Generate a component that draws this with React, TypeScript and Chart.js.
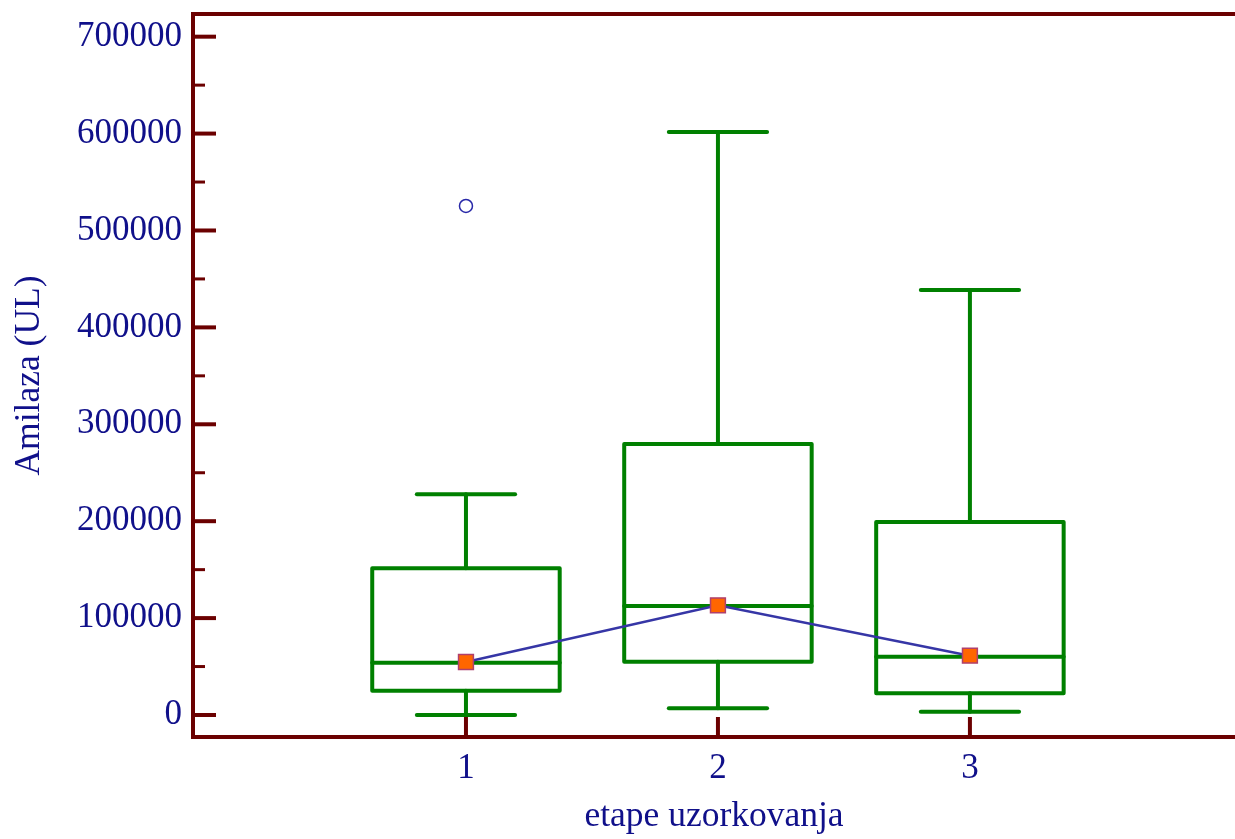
import React, { useEffect, useRef } from "react";
import { Chart, registerables } from "chart.js";

Chart.register(...registerables);

// ---- data ----
const CATEGORIES = [1, 2, 3];
const LOWER_WHISKER = [0, 6900, 3400];
const Q1 = [25100, 55000, 22400];
const MEDIAN = [54000, 112500, 60200];
const Q3 = [151400, 279700, 199200];
const UPPER_WHISKER = [227800, 601700, 438600];
const MEAN = [54700, 113200, 61200];
const OUTLIER_X = [1];
const OUTLIER_Y = [525300];
const X_TICKS = [1, 2, 3];
const Y_MAJOR_TICKS = [0, 100000, 200000, 300000, 400000, 500000, 600000, 700000];
const Y_MINOR_TICKS = [50000, 150000, 250000, 350000, 450000, 550000, 650000];

// ---- style ----
const AXIS_COLOR = "#6b0000";
const TEXT_COLOR = "#10108a";
const BOX_COLOR = "#008000";
const FONT_FAMILY = "'Liberation Serif', 'Times New Roman', Times, serif";
const BOX_HALF = 0.372;
const CAP_HALF = 0.195;

const boxPlugin = {
  id: "boxFrame",
  beforeDatasetsDraw(chart: any) {
    const { ctx, chartArea, scales } = chart;
    const { left, right, top, bottom } = chartArea;
    const x = scales.x;
    const y = scales.y;
    const line = (x1: number, y1: number, x2: number, y2: number) => {
      ctx.beginPath();
      ctx.moveTo(x1, y1);
      ctx.lineTo(x2, y2);
      ctx.stroke();
    };
    ctx.save();
    ctx.strokeStyle = AXIS_COLOR;
    ctx.lineCap = "butt";
    ctx.lineWidth = 4;
    Y_MAJOR_TICKS.forEach((v) => {
      const py = y.getPixelForValue(v);
      line(left, py, left + 23, py);
    });
    ctx.lineWidth = 3;
    Y_MINOR_TICKS.forEach((v) => {
      const py = y.getPixelForValue(v);
      line(left, py, left + 12, py);
    });
    ctx.lineWidth = 4;
    X_TICKS.forEach((v) => {
      const px = x.getPixelForValue(v);
      line(px, bottom, px, bottom - 20);
    });
    ctx.lineJoin = "miter";
    ctx.beginPath();
    ctx.moveTo(right + 4, top);
    ctx.lineTo(left, top);
    ctx.lineTo(left, bottom);
    ctx.lineTo(right + 4, bottom);
    ctx.stroke();

    // boxes
    ctx.strokeStyle = BOX_COLOR;
    ctx.lineWidth = 4;
    ctx.lineJoin = "round";
    ctx.lineCap = "round";
    CATEGORIES.forEach((c, i) => {
      const cx = x.getPixelForValue(c);
      const bl = x.getPixelForValue(c - BOX_HALF);
      const br = x.getPixelForValue(c + BOX_HALF);
      const cl = x.getPixelForValue(c - CAP_HALF);
      const cr = x.getPixelForValue(c + CAP_HALF);
      const yLo = y.getPixelForValue(LOWER_WHISKER[i]);
      const yQ1 = y.getPixelForValue(Q1[i]);
      const yMed = y.getPixelForValue(MEDIAN[i]);
      const yQ3 = y.getPixelForValue(Q3[i]);
      const yHi = y.getPixelForValue(UPPER_WHISKER[i]);
      ctx.beginPath();
      ctx.rect(bl, yQ3, br - bl, yQ1 - yQ3);
      ctx.stroke();
      line(bl, yMed, br, yMed);
      line(cx, yQ3, cx, yHi);
      line(cx, yQ1, cx, yLo);
      line(cl, yHi, cr, yHi);
      line(cl, yLo, cr, yLo);
    });
    ctx.restore();
  },
};

export default function App() {
  const ref = useRef<HTMLCanvasElement | null>(null);
  useEffect(() => {
    if (!ref.current) return;
    const tickFont = { family: FONT_FAMILY, size: 35 };
    const titleFont = { family: FONT_FAMILY, size: 35.5 };
    const chart = new Chart(ref.current, {
      type: "line",
      data: {
        datasets: [
          {
            type: "scatter",
            data: OUTLIER_X.map((v, i) => ({ x: v, y: OUTLIER_Y[i] })),
            pointStyle: "circle",
            pointRadius: 6.5,
            borderColor: "#2828a8",
            backgroundColor: "#ffffff",
            borderWidth: 1.5,
            showLine: false,
          } as any,
          {
            type: "line",
            data: CATEGORIES.map((c, i) => ({ x: c, y: MEAN[i] })),
            borderColor: "#3636a6",
            borderWidth: 2.5,
            pointStyle: "rect",
            pointRadius: 10.5,
            pointBackgroundColor: "#ff6600",
            pointBorderColor: "#b0406c",
            pointBorderWidth: 1.5,
            tension: 0,
            fill: false,
          } as any,
        ],
      },
      options: {
        animation: false,
        responsive: false,
        devicePixelRatio: 1,
        layout: { autoPadding: false, padding: { left: 0, right: 0, top: 14, bottom: 0 } },
        plugins: { legend: { display: false }, tooltip: { enabled: false } },
        scales: {
          x: {
            type: "linear",
            min: -0.0833,
            max: 4.052,
            grid: { display: false, drawTicks: false },
            border: { display: false },
            afterBuildTicks: (s: any) => {
              s.ticks = X_TICKS.map((v) => ({ value: v }));
            },
            afterFit: (s: any) => {
              s.height = 102;
              s.paddingLeft = 0;
              s.paddingRight = 0;
            },
            ticks: {
              autoSkip: false,
              maxRotation: 0,
              padding: 11,
              color: TEXT_COLOR,
              font: tickFont,
              callback: (v: any) => String(v),
            },
            title: {
              display: true,
              text: "etape uzorkovanja",
              color: TEXT_COLOR,
              font: titleFont,
              padding: { top: 0, bottom: 1 },
            },
          },
          y: {
            type: "linear",
            min: -22700,
            max: 723400,
            grid: { display: false, drawTicks: false },
            border: { display: false },
            afterBuildTicks: (s: any) => {
              s.ticks = [...Y_MAJOR_TICKS, ...Y_MINOR_TICKS]
                .sort((a, b) => a - b)
                .map((v) => ({ value: v }));
            },
            afterFit: (s: any) => {
              s.width = 193;
              s.paddingTop = 0;
              s.paddingBottom = 0;
            },
            ticks: {
              autoSkip: false,
              padding: 11,
              color: TEXT_COLOR,
              font: tickFont,
              callback: (v: any) => (Y_MAJOR_TICKS.includes(Number(v)) ? String(v) : ""),
            },
            title: {
              display: true,
              text: "Amilaza (UL)",
              color: TEXT_COLOR,
              font: titleFont,
              padding: { top: 8, bottom: 0 },
            },
          },
        },
      },
      plugins: [boxPlugin],
    } as any);
    return () => chart.destroy();
  }, []);
  return (
    <div style={{ position: "fixed", left: 0, top: 0, width: 1235, height: 839, background: "#ffffff" }}>
      <canvas ref={ref} width={1235} height={839} style={{ width: 1235, height: 839, display: "block" }} />
    </div>
  );
}
